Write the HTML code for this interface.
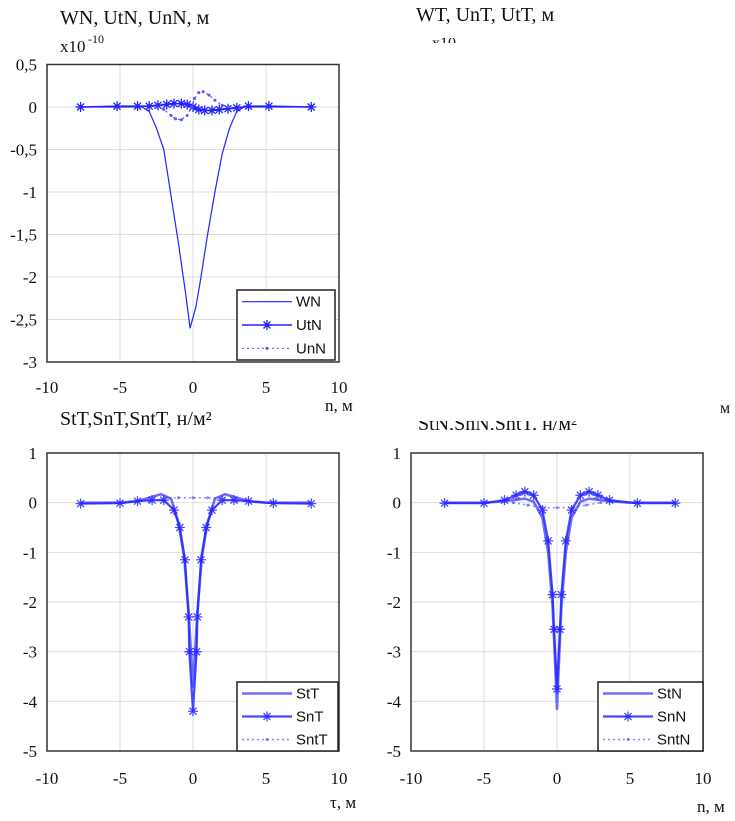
<!DOCTYPE html>
<html><head><meta charset="utf-8"><style>
body{margin:0;background:#fff;width:735px;height:821px;overflow:hidden;font-family:"Liberation Serif",serif}
svg{position:absolute;left:0;top:0}
text{font-family:"Liberation Serif",serif;fill:#111}
.lg{font-family:"Liberation Sans",sans-serif;font-size:15px}
</style></head><body>
<svg id="s" width="735" height="821"></svg>
<script>
// ---- data: panel A (WN, UtN, UnN x1e-10) ----
const wnX=[-8,-3.5,-3,-2.5,-2,-1.5,-1,-0.5,-0.2,0.2,0.5,1,1.5,2,2.5,3,3.5,8];
const wnY=[0,0,-0.05,-0.25,-0.5,-1.05,-1.6,-2.2,-2.6,-2.35,-2.05,-1.5,-1.0,-0.55,-0.25,-0.05,0,0];
const utnX=[-7.7,-5.2,-3.8,-3,-2.4,-1.8,-1.3,-0.8,-0.4,0,0.4,0.8,1.3,1.8,2.4,3,3.8,5.2,8.1];
const utnY=[0,0.01,0.01,0.01,0.02,0.03,0.04,0.04,0.03,0,-0.03,-0.04,-0.04,-0.03,-0.02,-0.01,0.01,0.01,0];
const unnX=[-2.5,-2,-1.5,-1.2,-0.8,-0.4,-0.1,0.1,0.4,0.7,1.1,1.5,2,2.5];
const unnY=[0,-0.03,-0.1,-0.14,-0.15,-0.1,0,0.1,0.17,0.18,0.14,0.08,0.02,0];
// ---- panel C (StT, SnT, SntT) ----
const sttX=[-7.7,-5,-3.8,-2.8,-2.2,-1.5,-1,-0.6,-0.3,-0.1,0,0.1,0.3,0.6,1,1.5,2.2,2.8,3.8,5,8.1];
const sttY=[0,0,0.03,0.12,0.17,0.08,-0.4,-1.1,-2.2,-3.2,-3.7,-3.2,-2.2,-1.1,-0.4,0.08,0.17,0.12,0.03,0,0];
const sntX=[-7.7,-5,-3.8,-2.8,-2,-1.3,-0.9,-0.55,-0.3,-0.25,0,0.25,0.3,0.55,0.9,1.3,2,2.8,3.8,5.5,8.1];
const sntY=[-0.02,-0.01,0.03,0.05,0.05,-0.15,-0.5,-1.15,-2.3,-3.0,-4.2,-3.0,-2.3,-1.15,-0.5,-0.15,0.05,0.05,0.03,-0.01,-0.02];
const snttX=[-3,-2,-1,0,1,2,3];
const snttY=[0.02,0.08,0.1,0.1,0.1,0.08,0.02];
// ---- panel D (StN, SnN, SntN) ----
const stnX=[-7.7,-5,-3.6,-2.8,-2.2,-1.6,-1,-0.6,-0.3,-0.1,0,0.1,0.3,0.6,1,1.6,2.2,2.8,3.6,5,8.1];
const stnY=[0,0,0.03,0.06,0.08,0.02,-0.3,-1.0,-2.1,-3.4,-4.15,-3.4,-2.1,-1.0,-0.3,0.02,0.08,0.06,0.03,0,0];
const snnX=[-7.7,-5,-3.6,-2.8,-2.2,-1.6,-1,-0.6,-0.3,-0.2,0,0.2,0.3,0.6,1,1.6,2.2,2.8,3.6,5.5,8.1];
const snnY=[-0.01,-0.01,0.05,0.15,0.22,0.15,-0.15,-0.77,-1.85,-2.55,-3.75,-2.55,-1.85,-0.77,-0.15,0.15,0.22,0.15,0.05,-0.01,-0.01];
const sntnX=[-3,-2,-1,0,1,2,3];
const sntnY=[0,-0.05,-0.1,-0.1,-0.1,-0.05,0];
const ticksA=["0,5","0","-0,5","-1","-1,5","-2","-2,5","-3"];
const ticksB=["1","0","-1","-2","-3","-4","-5"];
const ticksX=["-10","-5","0","5","10"];

const S=document.getElementById('s'),NS='http://www.w3.org/2000/svg';
function mk(t,a,p){const e=document.createElementNS(NS,t);for(const k in a)e.setAttribute(k,a[k]);(p||S).appendChild(e);return e;}
function txt(x,y,s,sz,anchor,p){const e=mk('text',{x:x,y:y,'font-size':sz,'text-anchor':anchor||'start'},p);e.textContent=s;return e;}
function panel(name,L,R,T,B,ymax,ymin,yt,xoff){
  const g=mk('g',{});
  
  
  const sx=v=>L+(v+10)/20*(R-L), sy=v=>T+(ymax-v)/(ymax-ymin)*(B-T);
  const n=yt.length;
  for(let i=0;i<n;i++){const v=ymax-i*(ymax-ymin)/(n-1);const y=sy(v);
    if(i>0&&i<n-1){const l=mk('line',{x1:L,x2:R,y1:y,y2:y,stroke:'#ddd','stroke-width':1},g);}
    const t=txt(L-10,y+6,yt[i],17,'end',g);}
  ticksX.forEach((s,i)=>{const v=-10+5*i,x=sx(v);
    if(i>0&&i<4){const l=mk('line',{x1:x,x2:x,y1:T,y2:B,stroke:'#ddd','stroke-width':1},g);}
    const t=txt(x,B+xoff,s,17,'middle',g);});
  const r=mk('rect',{x:L,y:T,width:R-L,height:B-T,fill:'none',stroke:'#333','stroke-width':1.5},g);
  
  return {g,sx,sy};
}
function series(P,xs,ys,name,opt){
  const d=xs.map((x,i)=>(i?'L':'M')+P.sx(x).toFixed(1)+','+P.sy(ys[i]).toFixed(1)).join('');
  const p=mk('path',{d:d,fill:'none',stroke:opt.c,'stroke-width':opt.w,'stroke-dasharray':opt.dash||'none','stroke-linejoin':'round'},P.g);
  
  
  if(opt.star){xs.forEach((x,i)=>{star(P.g,P.sx(x),P.sy(ys[i]),opt.c);});}
  if(opt.dot){xs.forEach((x,i)=>{const c=mk('circle',{cx:P.sx(x),cy:P.sy(ys[i]),r:1.5,fill:opt.c},P.g);});}
}
function star(p,x,y,c){const s=5;const d=`M${x-s},${y}L${x+s},${y}M${x},${y-s}L${x},${y+s}M${x-3.5},${y-3.5}L${x+3.5},${y+3.5}M${x-3.5},${y+3.5}L${x+3.5},${y-3.5}`;
  const e=mk('path',{d:d,stroke:c,'stroke-width':1.3},p);}
function legend(P,x,y,w,h,names,styles){
  const g=mk('g',{},P.g);
  
  
  mk('rect',{x:x,y:y,width:w,height:h,fill:'#fff',stroke:'#222','stroke-width':1.5},g);
  names.forEach((n,i)=>{const yy=y+h*(i+0.5)/3;const o=styles[i];
    mk('line',{x1:x+5,x2:x+55,y1:yy,y2:yy,stroke:o.c,'stroke-width':o.w,'stroke-dasharray':o.dash||'none'},g);
    if(o.star)star(g,x+30,yy,o.c);
    if(o.dot)mk('circle',{cx:x+30,cy:yy,r:1.5,fill:o.c},g);
    const t=txt(x+59,yy+5,n,15,'start',g);t.setAttribute('class','lg');});
}
const thin={c:'#2323ff',w:1.2}, thinS={c:'#2323ff',w:1.6,star:true}, thinD={c:'#5555ff',w:1.2,dash:'2,3',dot:true};
const thick={c:'rgba(60,60,255,0.75)',w:2.6}, thickS={c:'rgba(40,40,255,0.85)',w:2.2,star:true}, thickD={c:'rgba(60,60,255,0.6)',w:1.5,dash:'2,3',dot:true};

// Panel A
const A=panel('panel-wn-utn-unn',47,339,64.5,362,0.5,-3,ticksA,31);
series(A,wnX,wnY,'series-wn',thin);
series(A,utnX,utnY,'series-utn',thinS);
series(A,unnX,unnY,'series-unn',thinD);
legend(A,237,290,98,70,['WN','UtN','UnN'],[thin,thinS,thinD]);
// Panel C
const C=panel('panel-stt-snt-sntt',47,339,453,751,1,-5,ticksB,33);
series(C,sttX,sttY,'series-stt',thick);
series(C,sntX,sntY,'series-snt',thickS);
series(C,snttX,snttY,'series-sntt',thickD);
legend(C,237,682,101,69,['StT','SnT','SntT'],[thick,thickS,thickD]);
// Panel D
const D=panel('panel-stn-snn-sntn',411,703,453,751,1,-5,ticksB,33);
series(D,stnX,stnY,'series-stn',thick);
series(D,snnX,snnY,'series-snn',thickS);
series(D,sntnX,sntnY,'series-sntn',thickD);
legend(D,598,682,105,69,['StN','SnN','SntN'],[thick,thickS,thickD]);

// titles & labels
[[60,24,'WN, UtN, UnN, м',20,'title-a'],[416,21,'WT, UnT, UtT, м',20,'title-b'],[60,425,'StT,SnT,SntT, н/м²',20,'title-c'],
 [325,411,'n, м',17,'x-axis-title-a'],[330,808,'τ, м',17,'x-axis-title-c'],[697,812,'n, м',17,'x-axis-title-d'],[720,413,'м',16,'x-axis-title-b']]
.forEach(a=>{const t=txt(a[0],a[1],a[2],a[3]);});
const ex=txt(60,52,'x10',17);
const ex2=txt(88,43,'-10',12);
// clipped partial title of panel D
const cg=mk('svg',{x:0,y:421,width:735,height:9,overflow:'hidden'});


txt(418,9,'StN,SnN,SntT, н/м²',20,'start',cg);
const cg2=mk('svg',{x:0,y:38,width:735,height:5,overflow:'hidden'});


txt(432,10,'x10',16,'start',cg2);
</script>
</body></html>
